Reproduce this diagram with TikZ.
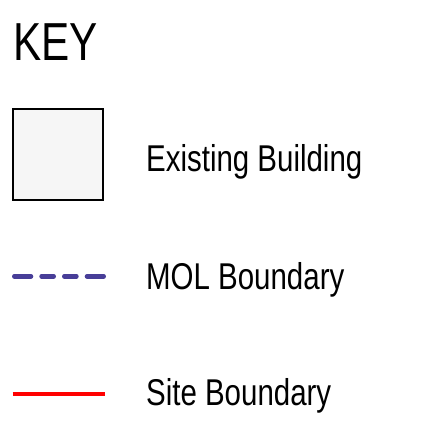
\documentclass[tikz,border=0pt]{standalone}
\usepackage{fontspec}
\setmainfont{Liberation Sans}
\usepackage{tikz}
\usepackage{xcolor}
\definecolor{molblue}{RGB}{72,62,152}
\definecolor{buildgrey}{RGB}{246,246,246}

\begin{document}
\begin{tikzpicture}[x=1pt, y=-1pt,
  key text/.style={anchor=base west, inner sep=0pt, xscale=0.79},
  legend text/.style={key text, font=\fontsize{37.3}{40}\selectfont},
  building box/.style={draw, line width=2.2pt, fill=buildgrey, inner sep=0pt,
    minimum width=89.8pt, minimum height=90.5pt},
  mol line/.style={molblue, line width=4.5pt, line cap=round,
    dash pattern=on 16.8pt off 10.5pt on 12.2pt off 10.5pt on 12.2pt off 10.5pt on 16.8pt off 10pt},
  site line/.style={red, line width=3.5pt}]

\useasboundingbox (0,0) rectangle (447,425);

\node [key text, font=\fontsize{53.5}{56}\selectfont] (key) at (13,61) {KEY};

\node [building box] (building) at (58,154.65) {};

\coordinate (mol-a) at (14.25,276.3);
\coordinate (mol-b) at (103.75,276.3);
\draw [mol line] (mol-a) -- (mol-b);

\coordinate (site-a) at (12.7,394.2);
\coordinate (site-b) at (105.3,394.2);
\draw [site line] (site-a) -- (site-b);

\foreach \t/\y [count=\i] in {Existing Building/171.7, MOL Boundary/289.3, Site Boundary/405.5}
  \node [legend text] (label-\i) at (146,\y) {\t};

\end{tikzpicture}
\end{document}
